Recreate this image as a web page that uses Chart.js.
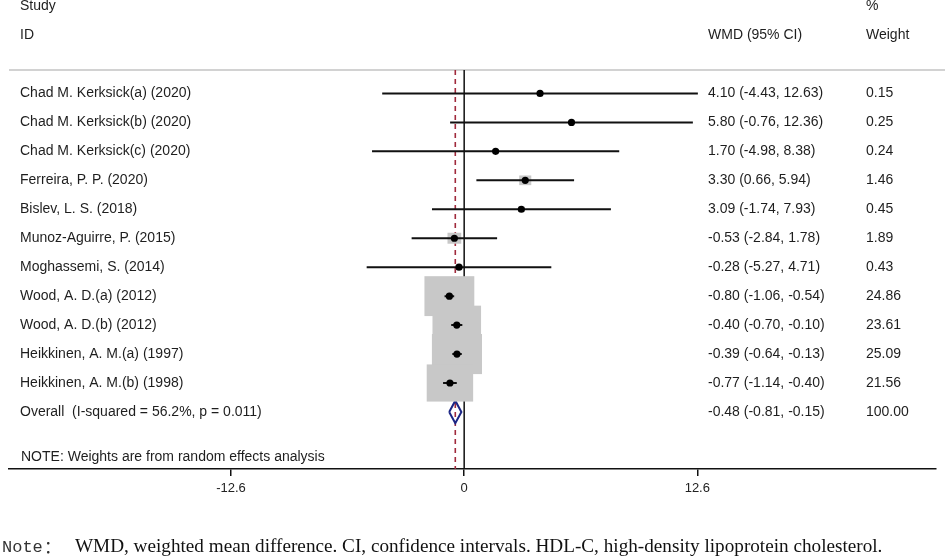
<!DOCTYPE html>
<html>
<head>
<meta charset="utf-8">
<script src="https://cdn.jsdelivr.net/npm/chart.js@4.4.1/dist/chart.umd.min.js"></script>
<style>
  html, body { margin: 0; padding: 0; background: #fff; }
  #wrap { position: relative; width: 948px; height: 557px; }
</style>
</head>
<body>
<div id="wrap"><canvas id="forestChart" width="948" height="557"></canvas></div>
<script>
// study rows, top to bottom
let studies = [
    'Chad M. Kerksick(a) (2020)',
    'Chad M. Kerksick(b) (2020)',
    'Chad M. Kerksick(c) (2020)',
    'Ferreira, P. P. (2020)',
    'Bislev, L. S. (2018)',
    'Munoz-Aguirre, P. (2015)',
    'Moghassemi, S. (2014)',
    'Wood, A. D.(a) (2012)',
    'Wood, A. D.(b) (2012)',
    'Heikkinen, A. M.(a) (1997)',
    'Heikkinen, A. M.(b) (1998)'
];
let wmd     = [4.10, 5.80, 1.70, 3.30, 3.09, -0.53, -0.28, -0.80, -0.40, -0.39, -0.77];
let ciLow   = [-4.43, -0.76, -4.98, 0.66, -1.74, -2.84, -5.27, -1.06, -0.70, -0.64, -1.14];
let ciHigh  = [12.63, 12.36, 8.38, 5.94, 7.93, 1.78, 4.71, -0.54, -0.10, -0.13, -0.40];
let weights = [0.15, 0.25, 0.24, 1.46, 0.45, 1.89, 0.43, 24.86, 23.61, 25.09, 21.56];

let overallLabel = 'Overall  (I-squared = 56.2%, p = 0.011)';
let overall = [-0.48, -0.81, -0.15];   // estimate, low, high
let overallWeight = 100.00;

let tickValues = [-12.6, 0, 12.6];
let tickLabels = ['-12.6', '0', '12.6'];

let noteText = 'NOTE: Weights are from random effects analysis';
let footPrefix = 'Note';
let footText = 'WMD, weighted mean difference. CI, confidence intervals. HDL-C, high-density lipoprotein cholesterol.';

// layout
let xMin = -24.6, xMax = 25.5;
let yMin = -0.81, yMax = 12.97;
let overallRow = studies.length;
let diamondHalf = 0.39;

Chart.defaults.font.family = '"Liberation Sans", Arial, sans-serif';
Chart.defaults.color = '#222';

let ciPoints = [];
studies.forEach((s, i) => {
    ciPoints.push({ x: ciLow[i], y: i }, { x: ciHigh[i], y: i }, { x: null, y: null });
});

let diamond = [
    { x: overall[1], y: overallRow },
    { x: overall[0], y: overallRow - diamondHalf },
    { x: overall[2], y: overallRow },
    { x: overall[0], y: overallRow + diamondHalf },
    { x: overall[1], y: overallRow }
];

let fmt = v => v.toFixed(2);

// grey weight boxes, drawn under the CI lines
let boxPlugin = {
    id: 'boxes',
    beforeDatasetDraw(chart, args) {
        if (chart.data.datasets[args.index].label !== 'CI') return;
        let xs = chart.scales.x, ys = chart.scales.y, ctx = chart.ctx;
        ctx.save();
        ctx.fillStyle = '#c8c8c8';
        weights.forEach((w, i) => {
            let cx = xs.getPixelForValue(wmd[i]);
            let cy = ys.getPixelForValue(i);
            let hw = 5.0 * Math.sqrt(w), hh = 4.0 * Math.sqrt(w);
            ctx.fillRect(cx - hw, cy - hh, 2 * hw, 2 * hh);
        });
        ctx.restore();
    }
};

let textPlugin = {
    id: 'forestText',
    beforeDatasetsDraw(chart) {
        let ctx = chart.ctx, area = chart.chartArea;
        ctx.save();
        ctx.strokeStyle = '#d2d2d2';
        ctx.lineWidth = 2;
        ctx.beginPath();
        ctx.moveTo(9, area.top);
        ctx.lineTo(945, area.top);
        ctx.stroke();
        ctx.restore();
    },
    afterDraw(chart) {
        let ctx = chart.ctx, ys = chart.scales.y;
        ctx.save();
        ctx.fillStyle = '#1e1e1e';
        ctx.textBaseline = 'middle';
        ctx.textAlign = 'left';
        ctx.font = '14px "Liberation Sans", Arial, sans-serif';

        ctx.fillText('Study', 20, ys.getPixelForValue(-3.02));
        ctx.fillText('ID', 20, ys.getPixelForValue(-2.02));
        ctx.fillText('WMD (95% CI)', 708, ys.getPixelForValue(-2.02));
        ctx.fillText('%', 866, ys.getPixelForValue(-3.02));
        ctx.fillText('Weight', 866, ys.getPixelForValue(-2.02));

        studies.forEach((s, i) => {
            let y = ys.getPixelForValue(i);
            ctx.fillText(s, 20, y);
            ctx.fillText(fmt(wmd[i]) + ' (' + fmt(ciLow[i]) + ', ' + fmt(ciHigh[i]) + ')', 708, y);
            ctx.fillText(fmt(weights[i]), 866, y);
        });
        let yo = ys.getPixelForValue(overallRow);
        ctx.fillText(overallLabel, 20, yo);
        ctx.fillText(fmt(overall[0]) + ' (' + fmt(overall[1]) + ', ' + fmt(overall[2]) + ')', 708, yo);
        ctx.fillText(fmt(overallWeight), 866, yo);

        ctx.font = '14px "Liberation Sans", Arial, sans-serif';
        ctx.fillText(noteText, 21, ys.getPixelForValue(12.56));

        // footnote under the figure
        let fy = 547;
        ctx.fillStyle = '#333';
        ctx.font = '17px "Liberation Mono", monospace';
        ctx.fillText(footPrefix, 2, fy);
        ctx.font = '17px "Noto Sans CJK SC", sans-serif';
        ctx.fillText('：', 44, fy);
        ctx.fillStyle = '#111';
        ctx.font = '19.2px "Liberation Serif", "Times New Roman", serif';
        ctx.fillText(footText, 75, fy);
        ctx.restore();
    }
};

let forestChart = new Chart(document.getElementById('forestChart'), {
    type: 'scatter',
    data: {
        datasets: [
            {
                label: 'dots',
                data: wmd.map((v, i) => ({ x: v, y: i })),
                pointRadius: 3.6,
                pointBackgroundColor: '#000',
                pointBorderWidth: 0,
                order: 1
            },
            {
                label: 'CI',
                data: ciPoints,
                showLine: true,
                spanGaps: false,
                borderColor: '#111',
                borderWidth: 2,
                pointRadius: 0,
                order: 2
            },
            {
                label: 'overall',
                data: diamond,
                showLine: true,
                borderColor: '#1b2585',
                borderWidth: 2,
                borderJoinStyle: 'miter',
                pointRadius: 0,
                order: 3
            },
            {
                label: 'pooled',
                data: [{ x: overall[0], y: yMin }, { x: overall[0], y: yMax }],
                showLine: true,
                borderColor: '#a02a3c',
                borderWidth: 1.6,
                borderDash: [5, 4],
                pointRadius: 0,
                order: 5
            },
            {
                label: 'zero',
                data: [{ x: 0, y: yMin }, { x: 0, y: yMax }],
                showLine: true,
                borderColor: '#111',
                borderWidth: 1.5,
                pointRadius: 0,
                order: 6
            }
        ]
    },
    options: {
        responsive: false,
        animation: false,
        layout: { padding: { top: 70, left: 9, right: 12, bottom: 0 } },
        plugins: {
            legend: { display: false },
            tooltip: { enabled: false }
        },
        scales: {
            x: {
                type: 'linear',
                min: xMin,
                max: xMax,
                afterBuildTicks: s => { s.ticks = tickValues.map(v => ({ value: v })); },
                afterFit: s => { s.height = 557 - 469; },
                ticks: {
                    autoSkip: false,
                    maxRotation: 0,
                    padding: 5,
                    font: { size: 13 },
                    color: '#222',
                    callback: (v, i) => tickLabels[i]
                },
                grid: { drawOnChartArea: false, drawTicks: true, tickLength: 7, color: '#111', lineWidth: 1.5 },
                border: { display: true, color: '#111', width: 1.5 }
            },
            y: {
                type: 'linear',
                reverse: true,
                min: yMin,
                max: yMax,
                display: false
            }
        }
    },
    plugins: [boxPlugin, textPlugin]
});
</script>
</body>
</html>
